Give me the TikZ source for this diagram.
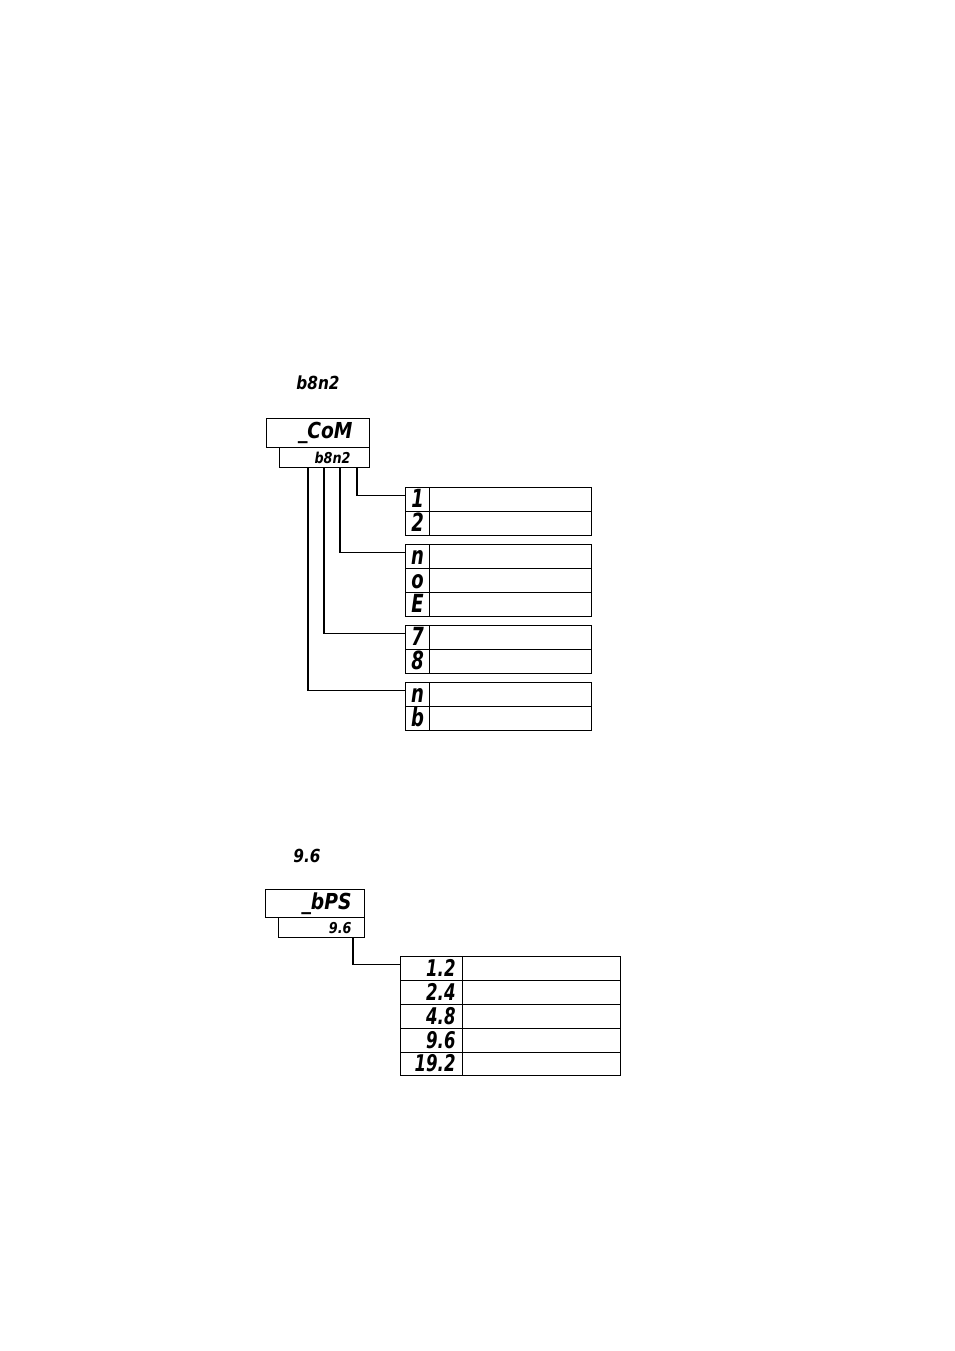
\documentclass[tikz,border=0pt]{standalone}
\usepackage{fontspec}
\newfontfamily\segA[FakeStretch=0.72]{DejaVu Sans}
\newfontfamily\segB[FakeStretch=0.85]{DejaVu Sans}
\usetikzlibrary{calc}
\begin{document}
\begin{tikzpicture}[x=1pt,y=-1pt,line width=1.1pt,
  box/.style={draw,inner sep=0pt,anchor=north west},
  segbig/.style={font=\segB\bfseries\itshape\fontsize{22}{22}\selectfont},
  segsmall/.style={font=\segB\bfseries\itshape\fontsize{15}{15}\selectfont},
  seglabel/.style={font=\segB\bfseries\itshape\fontsize{18}{18}\selectfont,inner sep=0pt},
  letA/.style={box,minimum width=24pt,minimum height=24pt,font=\segA\bfseries\itshape\fontsize{25}{25}\selectfont,text height=17pt,text depth=1pt},
  descA/.style={box,minimum width=162pt,minimum height=24pt},
  letB/.style={box,minimum width=62pt,minimum height=24pt,text width=48pt,align=right,font=\segA\bfseries\itshape\fontsize{23}{23}\selectfont,text height=16pt,text depth=1pt},
  descB/.style={box,minimum width=158pt,minimum height=24pt},
  wire/.style={draw,line width=1.1pt}]
\path[use as bounding box] (0,0) rectangle (954,1351);

% ---------- upper group ----------
\node[seglabel] (lbl1) at (318,383) {b8n2};
\node[box,segbig,minimum width=103pt,minimum height=29pt,text width=69pt,align=right] (con) at (266,418) {\_CoM};
\node[box,segsmall,minimum width=90pt,minimum height=20pt,text width=52pt,align=right] (bn) at (279,447) {b8n2};

\node[letA] (c1) at (405,487) {1};
\node[descA] (e1) at (429,487) {};
\node[letA] (c2) at (405,511) {2};
\node[descA] (e2) at (429,511) {};

\node[letA] (c3) at (405,544) {n};
\node[descA] (e3) at (429,544) {};
\node[letA] (c4) at (405,568) {o};
\node[descA] (e4) at (429,568) {};
\node[letA] (c5) at (405,592) {E};
\node[descA] (e5) at (429,592) {};

\node[letA] (c6) at (405,625) {7};
\node[descA] (e6) at (429,625) {};
\node[letA] (c7) at (405,649) {8};
\node[descA] (e7) at (429,649) {};

\node[letA] (c8) at (405,682) {n};
\node[descA] (e8) at (429,682) {};
\node[letA] (c9) at (405,706) {b};
\node[descA] (e9) at (429,706) {};

\draw[wire] ($(bn.south west)+(78,0)$) |- ([yshift=4pt]c1.west);
\draw[wire] ($(bn.south west)+(61,0)$) |- ([yshift=4pt]c3.west);
\draw[wire] ($(bn.south west)+(45,0)$) |- ([yshift=4pt]c6.west);
\draw[wire] ($(bn.south west)+(29,0)$) |- ([yshift=4pt]c8.west);

% ---------- lower group ----------
\node[seglabel] (lbl2) at (307,856) {9.6};
\node[box,segbig,minimum width=99pt,minimum height=28pt,text width=73pt,align=right] (bps) at (265,889) {\_bPS};
\node[box,segsmall,minimum width=86pt,minimum height=20pt,text width=60pt,align=right] (bs) at (278,917) {9.6};

\node[letB] (d1) at (400,956) {1.2};
\node[descB] (f1) at (462,956) {};
\node[letB] (d2) at (400,980) {2.4};
\node[descB] (f2) at (462,980) {};
\node[letB] (d3) at (400,1004) {4.8};
\node[descB] (f3) at (462,1004) {};
\node[letB] (d4) at (400,1028) {9.6};
\node[descB] (f4) at (462,1028) {};
\node[letB,minimum height=23pt] (d5) at (400,1052) {19.2};
\node[descB,minimum height=23pt] (f5) at (462,1052) {};

\draw[wire] ($(bs.south west)+(75,0)$) |- ([yshift=4pt]d1.west);
\end{tikzpicture}
\end{document}
